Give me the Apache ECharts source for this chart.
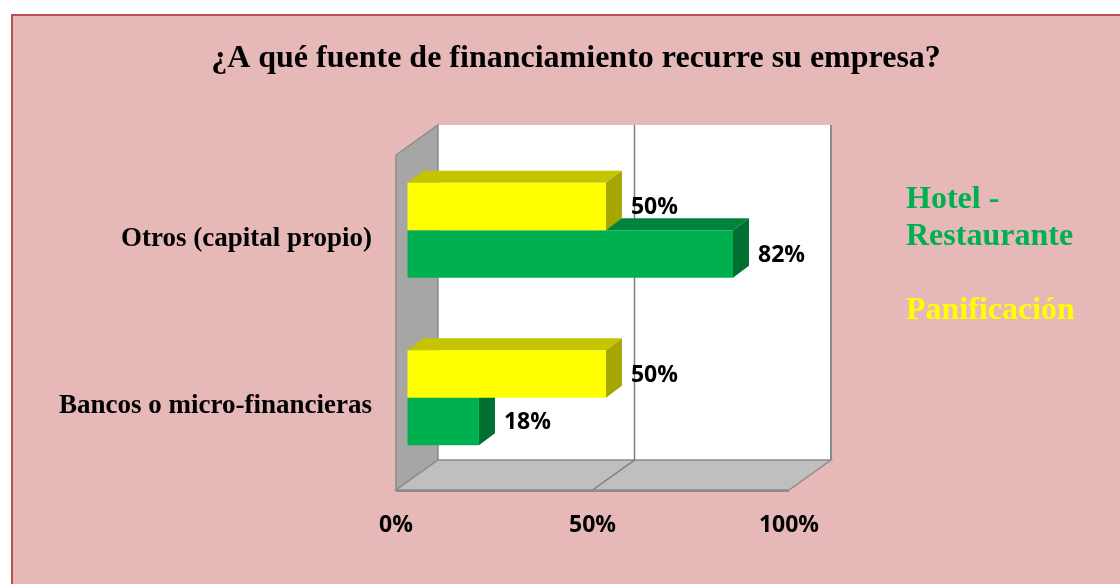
<!DOCTYPE html>
<html>
<head>
<meta charset="utf-8">
<script src="https://cdn.jsdelivr.net/npm/echarts@6/dist/echarts.min.js"></script>
<style>
  html, body { margin: 0; padding: 0; background: #fff; }
  #chart { width: 1120px; height: 584px; }
</style>
</head>
<body>
<div id="chart"></div>
<script>
const categorias = ['Bancos o micro-financieras', 'Otros (capital propio)']
const hotelRestaurante = [0.18, 0.82]
const panificacion = [0.50, 0.50]
const nombres = ['Hotel -\nRestaurante', 'Panificación']

// profundidad de la caja 3D y de las barras (px)
const BOX_D = [42, -30]
const PLANE_D = [11.5, -8.5]
const BAR_D = [16, -12]
const BAR_RATIO = 0.2836

const chart = echarts.init(document.getElementById('chart'))

const frameRender = (params, api) => {
  const cs = params.coordSys
  const x0 = cs.x, x1 = cs.x + cs.width
  const yT = cs.y, yB = cs.y + cs.height
  const [dx, dy] = BOX_D
  const mid = api.coord([0.5, 0])[0]
  const edge = '#8c8c8c'
  return {
    type: 'group',
    children: [
      { type: 'rect', shape: { x: x0 + dx, y: yT + dy, width: cs.width, height: cs.height },
        style: { fill: '#fff', stroke: null } },
      { type: 'polygon', shape: { points: [[x0, yT], [x0 + dx, yT + dy], [x0 + dx, yB + dy], [x0, yB]] },
        style: { fill: '#a6a6a6', stroke: edge, lineWidth: 1.5 } },
      { type: 'polygon', shape: { points: [[x0, yB], [x0 + dx, yB + dy], [x1 + dx, yB + dy], [x1, yB]] },
        style: { fill: '#bfbfbf', stroke: edge, lineWidth: 1.5 } },
      { type: 'line', shape: { x1: x1 + dx, y1: yT + dy, x2: x1 + dx, y2: yB + dy },
        style: { stroke: edge, lineWidth: 2 } },
      { type: 'polyline', shape: { points: [[mid + dx, yT + dy], [mid + dx, yB + dy], [mid, yB]] },
        style: { stroke: '#7f7f7f', lineWidth: 1.5, fill: null } },
      { type: 'line', shape: { x1: x0, y1: yB + 1, x2: x1, y2: yB + 1 },
        style: { stroke: edge, lineWidth: 2 } }
    ]
  }
}

const barRender = (side, colors) => (params, api) => {
  const v = api.value(0)
  const cat = api.value(1)
  const base = api.coord([0, cat])
  const end = api.coord([v, cat])
  const h = api.size([0, 1])[1] * BAR_RATIO
  const xa = base[0] + PLANE_D[0]
  const xb = base[0] + (end[0] - base[0]) * 1.01 + PLANE_D[0]
  const yc = base[1] + PLANE_D[1]
  const yt = side > 0 ? yc : yc - h
  const yb = yt + h
  const [bx, by] = BAR_D
  return {
    type: 'group',
    children: [
      { type: 'polygon', shape: { points: [[xa, yt], [xb, yt], [xb + bx, yt + by], [xa + bx, yt + by]] },
        style: { fill: colors[1] } },
      { type: 'polygon', shape: { points: [[xb, yt], [xb + bx, yt + by], [xb + bx, yb + by], [xb, yb]] },
        style: { fill: colors[2] } },
      { type: 'rect', shape: { x: xa, y: yt, width: xb - xa, height: h },
        style: { fill: colors[0] } },
      { type: 'text', style: {
          text: Math.round(v * 100) + '%', x: xb + bx + 9, y: yt + h / 2 + 1,
          align: 'left', verticalAlign: 'middle',
          font: 'bold 23px "Open Sans"', fill: '#000' } }
    ]
  }
}

const option = {
  animation: false,
  backgroundColor: '#fff',
  graphic: [{
    type: 'rect', z: -10,
    shape: { x: 12, y: 15, width: 1120, height: 600 },
    style: { fill: '#e6b8b7', stroke: '#c0504d', lineWidth: 2 }
  }],
  title: {
    text: '¿A qué fuente de financiamiento recurre su empresa?',
    left: 571, top: 38, textAlign: 'center',
    textStyle: { fontFamily: '"Liberation Serif", "Times New Roman", serif', fontWeight: 'bold', fontSize: 32, color: '#000' }
  },
  legend: {
    orient: 'vertical', left: 901, top: 181, padding: 0,
    itemWidth: 0, itemHeight: 0, itemGap: 37, selectedMode: false,
    textStyle: { fontFamily: '"Liberation Serif", serif', fontWeight: 'bold', fontSize: 32, lineHeight: 37 },
    data: [
      { name: nombres[0], textStyle: { color: '#00b050' } },
      { name: nombres[1], textStyle: { color: '#ffff00' } }
    ]
  },
  grid: { left: 396, right: 331, top: 155, bottom: 94 },
  xAxis: {
    type: 'value', min: 0, max: 1, interval: 0.5,
    axisLine: { show: false }, axisTick: { show: false }, splitLine: { show: false },
    axisLabel: {
      margin: 24, color: '#000', fontFamily: '"Open Sans"', fontWeight: 'bold', fontSize: 23,
      formatter: v => Math.round(v * 100) + '%'
    }
  },
  yAxis: {
    type: 'category', data: categorias,
    axisLine: { show: false }, axisTick: { show: false }, splitLine: { show: false },
    axisLabel: { margin: 24, color: '#000', fontFamily: '"Liberation Serif", serif', fontWeight: 'bold', fontSize: 27 }
  },
  series: [
    { type: 'custom', name: 'frame', z: 1, silent: true, renderItem: frameRender, data: [[0, 0]], encode: { x: 0, y: 1 } },
    { type: 'custom', name: nombres[0], z: 2, itemStyle: { color: '#00b050' },
      renderItem: barRender(1, ['#00b050', '#00843c', '#006f32']),
      data: hotelRestaurante.map((v, i) => [v, i]), encode: { x: 0, y: 1 } },
    { type: 'custom', name: nombres[1], z: 3, itemStyle: { color: '#ffff00' },
      renderItem: barRender(-1, ['#ffff00', '#c4c400', '#a6a600']),
      data: panificacion.map((v, i) => [v, i]), encode: { x: 0, y: 1 } }
  ]
}

chart.setOption(option)
</script>
</body>
</html>
